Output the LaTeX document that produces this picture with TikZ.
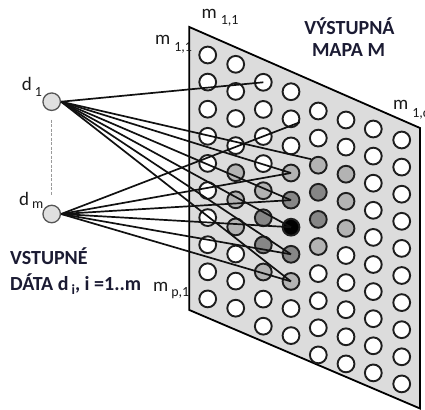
\documentclass[tikz,border=0pt]{standalone}
\usepackage{fontspec}
\setmainfont{Carlito}
% lowered small index text: #1 = drop, #2 = size, #3 = text
\newcommand\lowsub[3]{\raisebox{-#1}{\fontsize{#2}{#2}\selectfont #3}}
\definecolor{panel}{HTML}{DCDCDC}
\definecolor{cellline}{HTML}{1E1E1E}
\definecolor{cw}{HTML}{FFFFFF}
\definecolor{cL}{HTML}{B3B3B3}
\definecolor{cM}{HTML}{868686}
\definecolor{cB}{HTML}{000000}
\definecolor{infill}{HTML}{E0E0E0}
\definecolor{inline}{HTML}{555555}
\definecolor{linkcol}{HTML}{111111}
\definecolor{capcol}{HTML}{1B1B33}
\definecolor{labcol}{HTML}{1A1A1A}
\definecolor{dotcol}{HTML}{9A9A9A}
\begin{document}
\begin{tikzpicture}[x=1pt,y=-1pt,
  cell/.style={circle, draw=cellline, line width=1.9pt, minimum size=16.8pt, inner sep=0pt},
  innode/.style={circle, draw=inline, fill=infill, line width=1.3pt, minimum size=17.5pt, inner sep=0pt},
  link/.style={line width=1.7pt, draw=linkcol},
  dotline/.style={draw=dotcol, line width=1.2pt, dash pattern=on 3pt off 1.5pt},
  captext/.style={font=\fontsize{20}{22}\selectfont\bfseries, text=capcol, inner sep=0pt},
  lab/.style={font=\fontsize{19}{21}\selectfont, text=labcol, inner sep=0pt, anchor=base west}]

\useasboundingbox (0,0) rectangle (425,409);

% output map plane
\draw[line width=1.8pt, fill=panel, line join=miter]
  (189.3,27) -- (420,128) -- (420,408.5) -- (189.3,310) -- cycle;

% neurons of the map: column, x, top y, fill of each row
\foreach \c/\x/\y/\shades in {
  1/207.7/55.0/{w,w,w,w,w,w,w,w,w,w},
  2/235.7/64.3/{w,w,w,w,L,L,L,w,w,w},
  3/263.3/82.3/{w,w,w,w,L,M,M,L,w,w},
  4/291.0/91.7/{w,w,w,L,M,B,M,L,w,w},
  5/318.3/111.0/{w,w,L,M,M,L,w,w,w,w},
  6/346.0/120.0/{w,w,L,L,L,w,w,w,w,w},
  7/373.3/129.0/{w,w,w,w,w,w,w,w,w,w},
  8/401.7/140.0/{w,w,w,w,w,w,w,w,w,w}}
{
  \foreach \s [count=\k from 0] in \shades
    \node[cell, fill=c\s] (c\c-\k) at (\x, \y+27.1*\k) {};
}

% input neurons
\node[innode] (d1) at (51.7,101.7) {};
\node[innode] (dm) at (51.7,214) {};
\draw[dotline, shorten <=8.5pt, shorten >=8.5pt] (d1.south) -- (dm.north);

% connections
\foreach \t in {c3-0.center, c5-2.140, c4-3.center, c4-4.center, c4-5.center, c4-6.center, c4-7.center}
  \draw[link] (d1.east) -- (\t);
\foreach \t in {c4-1.-22, c4-3.center, c4-4.center, c4-5.center, c4-6.center, c4-7.center}
  \draw[link] (dm.east) -- (\t);

% labels
\node[lab] (mtop) at (201.5,18.3) {m\hspace{4pt}\lowsub{6.7pt}{14}{1,1}};
\node[lab] (mleft) at (155,45) {m\hspace{4pt}\lowsub{7pt}{14}{1,1}};
\node[lab] (mright) at (393,110) {m\hspace{4pt}\lowsub{8pt}{14}{1,c}};
\node[lab] (mbot) at (153,291.7) {m\hspace{3pt}\lowsub{5pt}{14}{p,1}};
\node[lab] (d1lab) at (21.7,90.7) {d\hspace{3pt}\lowsub{6pt}{14}{1}};
\node[lab] (dmlab) at (19,205) {d\hspace{3pt}\lowsub{3.3pt}{14}{m}};

\node[captext, anchor=base] (t1) at (349.5,35) {VÝSTUPNÁ};
\node[captext, anchor=base] (t2) at (348.5,57) {MAPA M};
\node[captext, anchor=base west] (t3) at (10,264) {VSTUPNÉ};
\node[captext, anchor=base west] (t4) at (10,290) {DÁTA d\hspace{3pt}\lowsub{4pt}{14}{i}, i =1..m};
\end{tikzpicture}
\end{document}
